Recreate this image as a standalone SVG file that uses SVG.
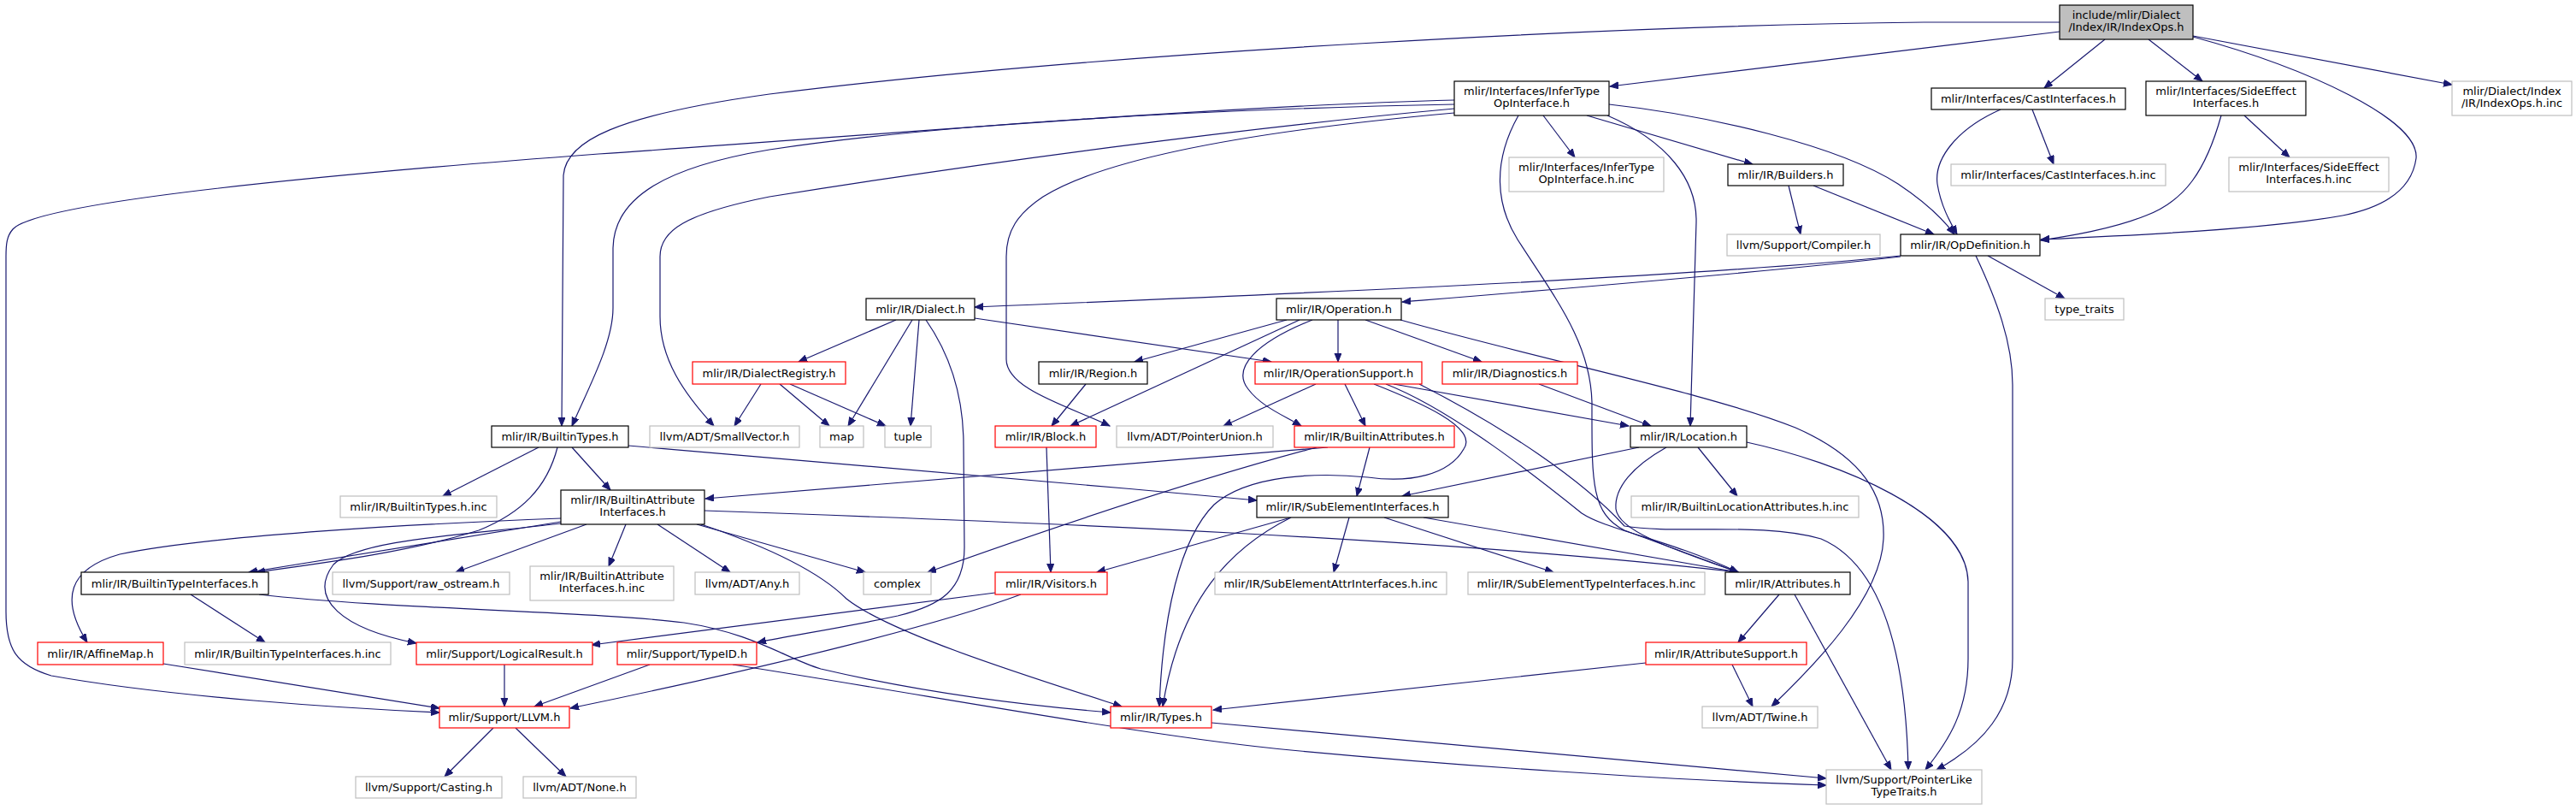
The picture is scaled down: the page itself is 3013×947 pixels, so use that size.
<svg xmlns="http://www.w3.org/2000/svg" width="3013" height="947" viewBox="0 0 3013 947">
<style>
rect{stroke-width:1.2}
.nb rect{fill:#fff;stroke:#000}
.ng rect{fill:#fff;stroke:#bfbfbf}
.nr rect{fill:#fff;stroke:#ff0000}
.nroot rect{fill:#bfbfbf;stroke:#000}
text{font-family:"DejaVu Sans","Liberation Sans",sans-serif;font-size:13px;fill:#000;text-anchor:middle}
#edges path{fill:none;stroke:#191970;stroke-width:1.2;marker-end:url(#a)}
</style>
<defs>
<marker id="a" markerUnits="userSpaceOnUse" markerWidth="11" markerHeight="9" refX="10" refY="4" orient="auto">
<path d="M0,0 L10,4 L0,8 z" fill="#191970" stroke="#191970" stroke-width="1"/>
</marker>
</defs>
<rect width="3013" height="947" fill="#fff"/>
<g id="edges">
<path d="M2409,37 L1883,101"/>
<path d="M2409,26 L2250,26 C1900,30 1300,60 900,110 C720,135 662,165 659,205 L657,498"/>
<path d="M2462,46 L2391,103"/>
<path d="M2513,46 L2576,95"/>
<path d="M2565,42 L2868,99"/>
<path d="M2565,43 C2700,80 2830,140 2826,185 C2822,215 2800,240 2740,252 C2650,268 2500,275 2387,280"/>
<path d="M2377,128 L2402,192"/>
<path d="M2340,128 C2290,150 2262,185 2266,215 C2270,240 2280,258 2289,274"/>
<path d="M2625,135 L2678,184"/>
<path d="M2598,135 C2580,200 2555,235 2510,252 C2470,268 2420,276 2387,281"/>
<path d="M1805,135 L1842,184"/>
<path d="M1856,135 L2050,192"/>
<path d="M1882,122 C2000,135 2150,170 2220,215 C2250,235 2272,255 2286,274"/>
<path d="M1880,135 C1950,165 1985,210 1984,260 L1977,498"/>
<path d="M1776,135 C1745,190 1750,240 1775,280 C1820,350 1860,400 1862,470 C1862,560 1860,600 1900,620 L2033,669"/>
<path d="M1701,117 C1400,125 1000,160 700,180 C300,210 40,240 15,268 C8,276 7,285 7,300 L7,715 C7,760 20,778 60,790 C200,815 400,828 514,833"/>
<path d="M1701,122 C1400,128 1100,145 900,175 C780,195 718,230 717,290 L717,360 C717,400 690,450 669,498"/>
<path d="M1701,127 C1450,150 1150,190 900,230 C800,250 772,270 772,300 L772,370 C772,420 800,460 835,498"/>
<path d="M1701,132 C1500,150 1300,180 1220,230 C1190,250 1177,270 1177,300 L1177,420 C1177,455 1250,475 1298,498"/>
<path d="M2092,217 L2106,274"/>
<path d="M2121,217 L2262,274"/>
<path d="M2223,299 C2000,322 1600,340 1140,359"/>
<path d="M2223,300 C2050,320 1800,340 1640,353"/>
<path d="M2325,299 L2415,349"/>
<path d="M2311,299 C2335,350 2354,400 2354,450 L2354,770 C2354,830 2320,870 2265,900"/>
<path d="M1048,374 L934,423"/>
<path d="M1067,374 L992,498"/>
<path d="M1075,374 L1065,498"/>
<path d="M1083,374 C1115,420 1127,470 1127,520 L1128,640 C1128,690 1100,708 1050,720 C980,735 930,742 886,751"/>
<path d="M1140,372 L1487,423"/>
<path d="M890,449 L859,498"/>
<path d="M912,449 L970,498"/>
<path d="M924,449 L1036,498"/>
<path d="M1505,374 L1327,423"/>
<path d="M1520,374 L1252,498"/>
<path d="M1535,374 C1470,400 1440,430 1460,455 C1475,475 1500,485 1522,498"/>
<path d="M1565,374 L1565,423"/>
<path d="M1597,374 L1733,423"/>
<path d="M1638,374 C1800,420 2000,460 2100,500 C2180,535 2205,580 2203,630 C2200,700 2120,780 2072,826"/>
<path d="M1539,449 L1431,498"/>
<path d="M1573,449 L1597,498"/>
<path d="M1607,449 C1660,470 1730,500 1712,525 C1695,555 1650,565 1600,558 C1540,552 1460,555 1420,590 C1380,630 1360,720 1356,826"/>
<path d="M1621,449 C1700,480 1800,560 1850,600 C1880,620 1950,630 2033,669"/>
<path d="M1630,449 L1905,498"/>
<path d="M1800,449 L1931,498"/>
<path d="M1270,449 L1230,498"/>
<path d="M1224,523 L1229,669"/>
<path d="M630,523 L518,580"/>
<path d="M669,523 L714,573"/>
<path d="M652,523 C640,570 610,600 560,620 C480,645 380,658 300,669"/>
<path d="M735,521 C900,535 1200,560 1470,585"/>
<path d="M656,606 C500,612 250,625 140,648 C80,665 70,700 102,751"/>
<path d="M656,610 L291,669"/>
<path d="M656,612 C550,625 420,630 390,660 C360,700 400,735 487,752"/>
<path d="M686,613 L533,669"/>
<path d="M732,613 L712,662"/>
<path d="M769,613 L854,669"/>
<path d="M815,613 L1012,669"/>
<path d="M820,613 C900,640 960,670 990,700 C1040,740 1200,790 1312,826"/>
<path d="M824,597 C1200,610 1700,630 2033,669"/>
<path d="M223,695 L310,751"/>
<path d="M303,695 C450,712 700,715 800,728 C880,740 920,770 960,782 C1080,810 1200,825 1299,833"/>
<path d="M191,776 L514,828"/>
<path d="M590,777 L590,826"/>
<path d="M760,777 L625,826"/>
<path d="M857,777 C1100,815 1350,862 1510,877 C1700,895 1950,912 2136,918"/>
<path d="M1164,693 L692,754"/>
<path d="M1194,695 C1100,730 900,780 667,828"/>
<path d="M1553,523 L825,583"/>
<path d="M1540,523 C1400,560 1250,610 1085,669"/>
<path d="M1602,523 L1587,580"/>
<path d="M1917,523 L1640,580"/>
<path d="M1986,523 L2032,580"/>
<path d="M1949,523 C1910,545 1888,570 1890,595 C1893,620 1950,640 2033,669"/>
<path d="M2043,517 C2150,540 2300,600 2302,680 L2302,770 C2302,830 2280,865 2252,900"/>
<path d="M1660,449 C1760,500 1850,560 1900,615 C1960,625 2060,610 2130,630 C2200,660 2229,760 2232,900"/>
<path d="M1510,605 L1283,669"/>
<path d="M1510,605 C1440,640 1380,700 1360,826"/>
<path d="M1578,605 L1560,669"/>
<path d="M1619,605 L1817,669"/>
<path d="M1665,605 L2033,669"/>
<path d="M2081,695 L2033,751"/>
<path d="M2099,695 L2212,900"/>
<path d="M1925,775 L1419,830"/>
<path d="M2026,777 L2050,826"/>
<path d="M1417,845 C1700,870 1950,895 2136,910"/>
<path d="M577,851 L520,908"/>
<path d="M603,851 L662,908"/>
</g>
<g id="n_root" class="nroot"><rect x="2409" y="6" width="156" height="40"/><text x="2487" y="22">include/mlir/Dialect</text><text x="2487" y="36">/Index/IR/IndexOps.h</text></g>
<g id="n_infer" class="nb"><rect x="1701" y="95" width="181" height="40"/><text x="1791.5" y="111">mlir/Interfaces/InferType</text><text x="1791.5" y="125">OpInterface.h</text></g>
<g id="n_cast" class="nb"><rect x="2259" y="103" width="227" height="25"/><text x="2372.5" y="120">mlir/Interfaces/CastInterfaces.h</text></g>
<g id="n_side" class="nb"><rect x="2510" y="95" width="187" height="40"/><text x="2603.5" y="111">mlir/Interfaces/SideEffect</text><text x="2603.5" y="125">Interfaces.h</text></g>
<g id="n_indexinc" class="ng"><rect x="2868" y="95" width="140" height="40"/><text x="2938" y="111">mlir/Dialect/Index</text><text x="2938" y="125">/IR/IndexOps.h.inc</text></g>
<g id="n_inferinc" class="ng"><rect x="1765" y="184" width="181" height="40"/><text x="1855.5" y="200">mlir/Interfaces/InferType</text><text x="1855.5" y="214">OpInterface.h.inc</text></g>
<g id="n_builders" class="nb"><rect x="2021" y="192" width="135" height="25"/><text x="2088.5" y="209">mlir/IR/Builders.h</text></g>
<g id="n_castinc" class="ng"><rect x="2282" y="192" width="251" height="25"/><text x="2407.5" y="209">mlir/Interfaces/CastInterfaces.h.inc</text></g>
<g id="n_sideinc" class="ng"><rect x="2607" y="184" width="187" height="40"/><text x="2700.5" y="200">mlir/Interfaces/SideEffect</text><text x="2700.5" y="214">Interfaces.h.inc</text></g>
<g id="n_compiler" class="ng"><rect x="2020" y="274" width="179" height="25"/><text x="2109.5" y="291">llvm/Support/Compiler.h</text></g>
<g id="n_opdef" class="nb"><rect x="2223" y="274" width="163" height="25"/><text x="2304.5" y="291">mlir/IR/OpDefinition.h</text></g>
<g id="n_dialect" class="nb"><rect x="1013" y="349" width="127" height="25"/><text x="1076.5" y="366">mlir/IR/Dialect.h</text></g>
<g id="n_operation" class="nb"><rect x="1493" y="349" width="146" height="25"/><text x="1566" y="366">mlir/IR/Operation.h</text></g>
<g id="n_typetraits" class="ng"><rect x="2392" y="349" width="92" height="25"/><text x="2438" y="366">type_traits</text></g>
<g id="n_dialectreg" class="nr"><rect x="810" y="423" width="179" height="26"/><text x="899.5" y="440.5">mlir/IR/DialectRegistry.h</text></g>
<g id="n_region" class="nb"><rect x="1215" y="423" width="127" height="26"/><text x="1278.5" y="440.5">mlir/IR/Region.h</text></g>
<g id="n_opsupport" class="nr"><rect x="1468" y="423" width="195" height="26"/><text x="1565.5" y="440.5">mlir/IR/OperationSupport.h</text></g>
<g id="n_diag" class="nr"><rect x="1687" y="423" width="158" height="26"/><text x="1766" y="440.5">mlir/IR/Diagnostics.h</text></g>
<g id="n_builtintypes" class="nb"><rect x="575" y="498" width="160" height="25"/><text x="655" y="515">mlir/IR/BuiltinTypes.h</text></g>
<g id="n_smallvector" class="ng"><rect x="760" y="498" width="175" height="25"/><text x="847.5" y="515">llvm/ADT/SmallVector.h</text></g>
<g id="n_map" class="ng"><rect x="959" y="498" width="51" height="25"/><text x="984.5" y="515">map</text></g>
<g id="n_tuple" class="ng"><rect x="1035" y="498" width="54" height="25"/><text x="1062" y="515">tuple</text></g>
<g id="n_block" class="nr"><rect x="1164" y="498" width="118" height="25"/><text x="1223" y="515">mlir/IR/Block.h</text></g>
<g id="n_ptrunion" class="ng"><rect x="1306" y="498" width="183" height="25"/><text x="1397.5" y="515">llvm/ADT/PointerUnion.h</text></g>
<g id="n_builtinattrs" class="nr"><rect x="1514" y="498" width="187" height="25"/><text x="1607.5" y="515">mlir/IR/BuiltinAttributes.h</text></g>
<g id="n_location" class="nb"><rect x="1907" y="498" width="136" height="25"/><text x="1975" y="515">mlir/IR/Location.h</text></g>
<g id="n_builtintypesinc" class="ng"><rect x="398" y="580" width="183" height="25"/><text x="489.5" y="597">mlir/IR/BuiltinTypes.h.inc</text></g>
<g id="n_bai" class="nb"><rect x="656" y="573" width="168" height="40"/><text x="740" y="589">mlir/IR/BuiltinAttribute</text><text x="740" y="603">Interfaces.h</text></g>
<g id="n_subelem" class="nb"><rect x="1470" y="580" width="224" height="25"/><text x="1582" y="597">mlir/IR/SubElementInterfaces.h</text></g>
<g id="n_bliinc" class="ng"><rect x="1908" y="580" width="266" height="25"/><text x="2041" y="597">mlir/IR/BuiltinLocationAttributes.h.inc</text></g>
<g id="n_bti" class="nb"><rect x="95" y="669" width="219" height="26"/><text x="204.5" y="686.5">mlir/IR/BuiltinTypeInterfaces.h</text></g>
<g id="n_rawostream" class="ng"><rect x="389" y="669" width="207" height="26"/><text x="492.5" y="686.5">llvm/Support/raw_ostream.h</text></g>
<g id="n_baiinc" class="ng"><rect x="620" y="662" width="168" height="40"/><text x="704" y="678">mlir/IR/BuiltinAttribute</text><text x="704" y="692">Interfaces.h.inc</text></g>
<g id="n_any" class="ng"><rect x="813" y="669" width="122" height="26"/><text x="874" y="686.5">llvm/ADT/Any.h</text></g>
<g id="n_complex" class="ng"><rect x="1010" y="669" width="79" height="26"/><text x="1049.5" y="686.5">complex</text></g>
<g id="n_visitors" class="nr"><rect x="1164" y="669" width="131" height="26"/><text x="1229.5" y="686.5">mlir/IR/Visitors.h</text></g>
<g id="n_seattrinc" class="ng"><rect x="1421" y="669" width="271" height="26"/><text x="1556.5" y="686.5">mlir/IR/SubElementAttrInterfaces.h.inc</text></g>
<g id="n_setypeinc" class="ng"><rect x="1717" y="669" width="277" height="26"/><text x="1855.5" y="686.5">mlir/IR/SubElementTypeInterfaces.h.inc</text></g>
<g id="n_attributes" class="nb"><rect x="2018" y="669" width="146" height="26"/><text x="2091" y="686.5">mlir/IR/Attributes.h</text></g>
<g id="n_affinemap" class="nr"><rect x="44" y="751" width="147" height="26"/><text x="117.5" y="768.5">mlir/IR/AffineMap.h</text></g>
<g id="n_btiinc" class="ng"><rect x="216" y="751" width="241" height="26"/><text x="336.5" y="768.5">mlir/IR/BuiltinTypeInterfaces.h.inc</text></g>
<g id="n_logical" class="nr"><rect x="487" y="751" width="206" height="26"/><text x="590" y="768.5">mlir/Support/LogicalResult.h</text></g>
<g id="n_typeid" class="nr"><rect x="722" y="751" width="163" height="26"/><text x="803.5" y="768.5">mlir/Support/TypeID.h</text></g>
<g id="n_attrsupport" class="nr"><rect x="1925" y="751" width="188" height="26"/><text x="2019" y="768.5">mlir/IR/AttributeSupport.h</text></g>
<g id="n_llvm" class="nr"><rect x="514" y="826" width="152" height="25"/><text x="590" y="843">mlir/Support/LLVM.h</text></g>
<g id="n_types" class="nr"><rect x="1299" y="826" width="118" height="25"/><text x="1358" y="843">mlir/IR/Types.h</text></g>
<g id="n_twine" class="ng"><rect x="1991" y="826" width="135" height="25"/><text x="2058.5" y="843">llvm/ADT/Twine.h</text></g>
<g id="n_casting" class="ng"><rect x="416" y="908" width="171" height="25"/><text x="501.5" y="925">llvm/Support/Casting.h</text></g>
<g id="n_none" class="ng"><rect x="612" y="908" width="132" height="25"/><text x="678" y="925">llvm/ADT/None.h</text></g>
<g id="n_ptrlike" class="ng"><rect x="2136" y="900" width="182" height="40"/><text x="2227" y="916">llvm/Support/PointerLike</text><text x="2227" y="930">TypeTraits.h</text></g>
</svg>
